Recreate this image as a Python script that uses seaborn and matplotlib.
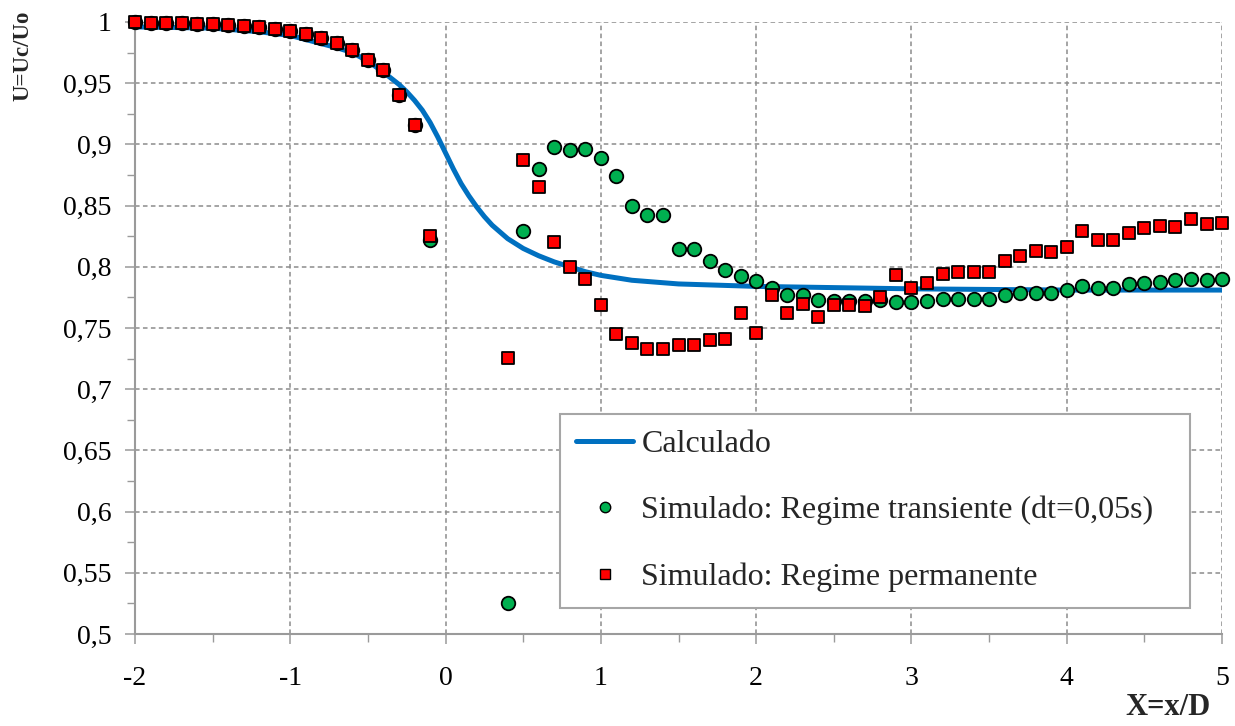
import numpy as np
import pandas as pd
import matplotlib
matplotlib.use("Agg")
import matplotlib.pyplot as plt
from matplotlib.lines import Line2D
from matplotlib.ticker import MultipleLocator, FixedLocator, FixedFormatter
import seaborn as sns

# ---------------- data ----------------
curve_x = [-2.0, -1.5, -1.2, -1.0, -0.85, -0.7, -0.6, -0.5, -0.4, -0.3, -0.25, -0.2, -0.15,
           -0.1, -0.05, 0.0, 0.05, 0.1, 0.15, 0.2, 0.25, 0.3, 0.4, 0.5, 0.6, 0.7, 0.8, 0.9,
           1.0, 1.2, 1.5, 2.0, 2.5, 3.0, 4.0, 5.0]
curve_y = [0.996, 0.995, 0.992, 0.989, 0.984, 0.979, 0.975, 0.968, 0.959, 0.949, 0.943, 0.936, 0.928,
           0.918, 0.906, 0.893, 0.880, 0.868, 0.858, 0.849, 0.841, 0.834, 0.823, 0.815, 0.809, 0.804,
           0.800, 0.796, 0.793, 0.789, 0.786, 0.784, 0.783, 0.782, 0.781, 0.781]

sim_x = [-2.0, -1.9, -1.8, -1.7, -1.6, -1.5, -1.4, -1.3, -1.2, -1.1, -1.0, -0.9, -0.8, -0.7,
         -0.6, -0.5, -0.4, -0.3, -0.2, -0.1,
         0.4, 0.5, 0.6, 0.7, 0.8, 0.9, 1.0, 1.1, 1.2, 1.3, 1.4, 1.5, 1.6, 1.7, 1.8, 1.9,
         2.0, 2.1, 2.2, 2.3, 2.4, 2.5, 2.6, 2.7, 2.8, 2.9, 3.0, 3.1, 3.2, 3.3, 3.4, 3.5,
         3.6, 3.7, 3.8, 3.9, 4.0, 4.1, 4.2, 4.3, 4.4, 4.5, 4.6, 4.7, 4.8, 4.9, 5.0]

transiente_y = [1.0, 0.999, 0.999, 0.999, 0.9986, 0.998, 0.9975, 0.997, 0.996, 0.994, 0.993, 0.990,
                0.987, 0.983, 0.977, 0.969, 0.961, 0.940, 0.916, 0.822,
                0.525, 0.8295, 0.880, 0.8976, 0.8954, 0.8965, 0.889, 0.874, 0.850, 0.842, 0.842,
                0.8146, 0.8146, 0.8045, 0.797, 0.7925,
                0.7886, 0.783, 0.777, 0.777, 0.773, 0.772, 0.772, 0.772, 0.773, 0.7715, 0.7715,
                0.772, 0.7734, 0.774, 0.774, 0.774,
                0.777, 0.7786, 0.779, 0.779, 0.781, 0.784, 0.783, 0.783, 0.786, 0.787, 0.7875,
                0.789, 0.790, 0.789, 0.790]

permanente_y = [1.0, 0.999, 0.999, 0.999, 0.9986, 0.998, 0.9975, 0.997, 0.996, 0.994, 0.993, 0.990,
                0.987, 0.983, 0.977, 0.969, 0.961, 0.940, 0.916, 0.825,
                0.7255, 0.887, 0.865, 0.820, 0.7996, 0.790, 0.769, 0.745, 0.738, 0.733, 0.733,
                0.736, 0.736, 0.740, 0.741, 0.762,
                0.746, 0.777, 0.762, 0.770, 0.759, 0.769, 0.769, 0.768, 0.7756, 0.793, 0.7825,
                0.787, 0.794, 0.7957, 0.796, 0.796,
                0.805, 0.809, 0.8127, 0.8125, 0.816, 0.8295, 0.822, 0.822, 0.828, 0.8314, 0.833,
                0.8325, 0.8393, 0.835, 0.8358]

x_ticks = [-2, -1, 0, 1, 2, 3, 4, 5]
x_tick_labels = ["-2", "-1", "0", "1", "2", "3", "4", "5"]
y_ticks = [0.5, 0.55, 0.6, 0.65, 0.7, 0.75, 0.8, 0.85, 0.9, 0.95, 1.0]
y_tick_labels = ["0,5", "0,55", "0,6", "0,65", "0,7", "0,75", "0,8", "0,85", "0,9", "0,95", "1"]

series_names = ["Calculado", "Simulado: Regime transiente (dt=0,05s)", "Simulado: Regime permanente"]

# ---------------- style ----------------
sns.set_theme(style="white")
plt.rcParams["font.family"] = ["Liberation Serif", "DejaVu Serif"]

BLUE = "#0070C0"
GREEN = "#00B050"
RED = "#FF0000"
GRID = "#8C8C8C"
SPINE = "#9A9A9A"

fig = plt.figure(figsize=(12.35, 7.26), dpi=100)
ax = fig.add_axes([0.1093, 0.1267, 0.8802, 0.843])

df_curve = pd.DataFrame({"x": curve_x, "y": curve_y})
df_tr = pd.DataFrame({"x": sim_x, "y": transiente_y})
df_pe = pd.DataFrame({"x": sim_x, "y": permanente_y})

sns.lineplot(data=df_curve, x="x", y="y", ax=ax, color=BLUE, linewidth=3.6,
             sort=False, zorder=3, solid_capstyle="butt", solid_joinstyle="round")
sns.scatterplot(data=df_tr, x="x", y="y", ax=ax, marker="o", s=95, color=GREEN,
                edgecolor="black", linewidth=1.3, zorder=4, clip_on=False)
sns.scatterplot(data=df_pe, x="x", y="y", ax=ax, marker="s", s=85, color=RED,
                edgecolor="black", linewidth=1.3, zorder=5, clip_on=False)

ax.set_xlim(-2, 5)
ax.set_ylim(0.5, 1.0)

ax.xaxis.set_major_locator(FixedLocator(x_ticks))
ax.xaxis.set_major_formatter(FixedFormatter(x_tick_labels))
ax.xaxis.set_minor_locator(MultipleLocator(0.5))
ax.yaxis.set_major_locator(FixedLocator(y_ticks))
ax.yaxis.set_major_formatter(FixedFormatter(y_tick_labels))
ax.yaxis.set_minor_locator(MultipleLocator(0.025))

ax.grid(True, which="major", linestyle=(0, (3, 2.2)), color=GRID, linewidth=1.1, zorder=0)
ax.set_axisbelow(True)

for side in ["top", "right"]:
    ax.spines[side].set_visible(False)
for side in ["left", "bottom"]:
    ax.spines[side].set_color(SPINE)
    ax.spines[side].set_linewidth(1.5)

ax.tick_params(axis="both", which="major", direction="out", length=7, width=1.1,
               color=SPINE, labelsize=20, labelcolor="black", bottom=True, left=True)
ax.tick_params(axis="both", which="minor", direction="out", length=6, width=1.0,
               color=SPINE, bottom=True, left=True)
ax.tick_params(axis="x", which="major", pad=16)
ax.tick_params(axis="y", which="major", pad=10)

ax.set_xlabel("")
ax.set_ylabel("")
fig.text(0.0185, 0.985, "U=Uc/Uo", rotation=90, ha="center", va="top",
         fontsize=16.5, fontweight="bold")
fig.text(0.98, 0.006, "X=x/D", ha="right", va="bottom", fontsize=22, fontweight="bold")

handles = [
    Line2D([0], [0], color=BLUE, linewidth=3.6),
    Line2D([0], [0], marker="o", linestyle="none", markersize=7.5, markerfacecolor=GREEN,
           markeredgecolor="black", markeredgewidth=1.0),
    Line2D([0], [0], marker="s", linestyle="none", markersize=7, markerfacecolor=RED,
           markeredgecolor="black", markeredgewidth=1.0),
]
leg = ax.legend(handles, series_names, loc="lower left",
                bbox_to_anchor=(0.391, 0.0425, 0.5796, 0.3235), mode="expand",
                fontsize=23, frameon=True, fancybox=False, framealpha=1,
                edgecolor="#A6A6A6", handlelength=1.8, handletextpad=0.25,
                labelspacing=1.16, borderpad=0.5, borderaxespad=0)
leg.get_frame().set_linewidth(1.5)
leg.set_zorder(10)

fig.savefig("out.png", dpi=100)
